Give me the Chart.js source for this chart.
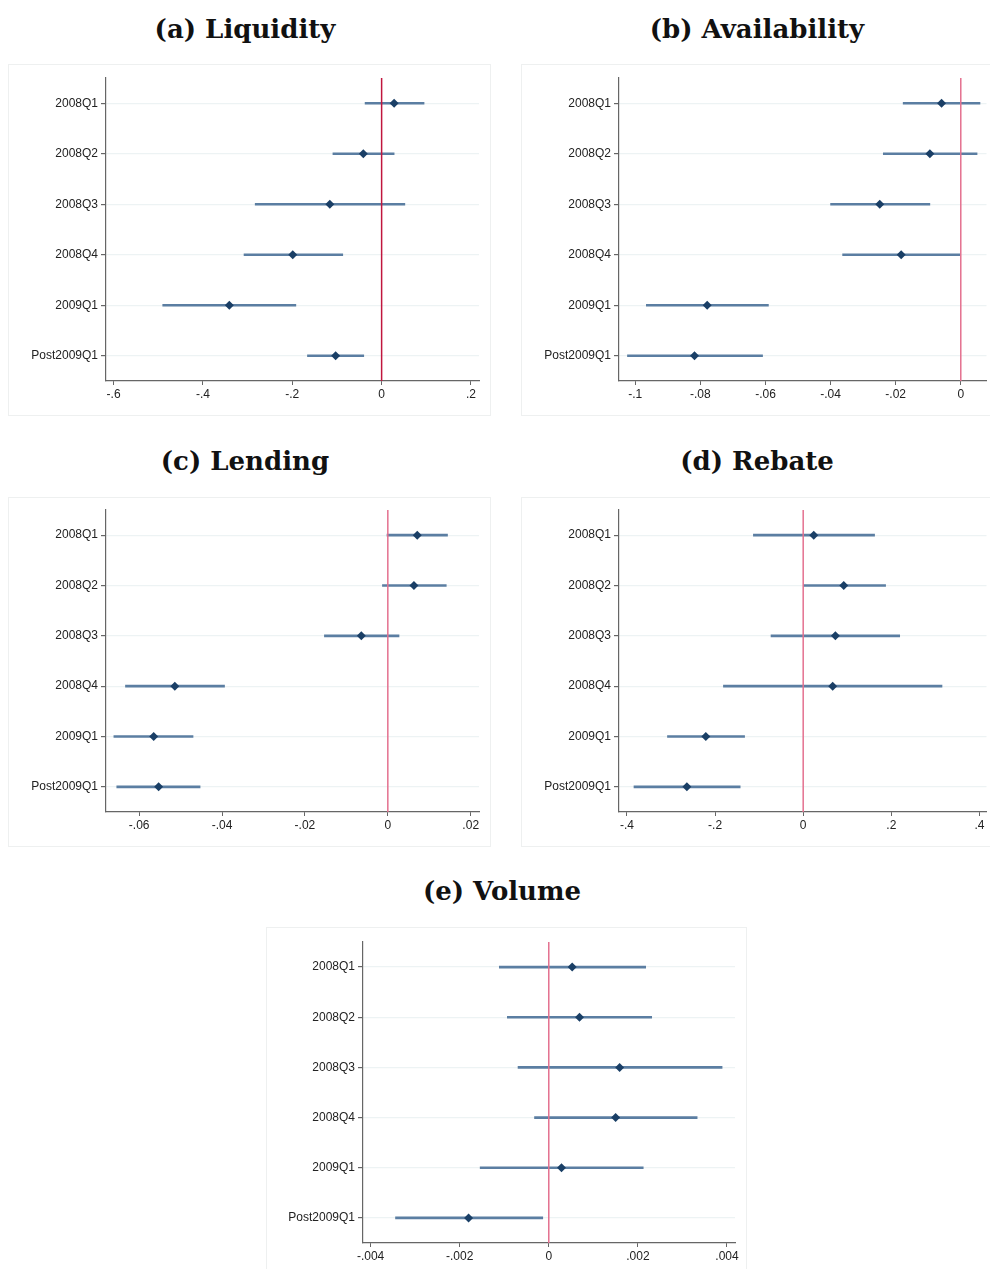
<!DOCTYPE html>
<html>
<head>
<meta charset="utf-8">
<script src="https://cdn.jsdelivr.net/npm/chart.js@4.4.1/dist/chart.umd.min.js"></script>
<style>
  body { margin: 0; background: #fff; width: 990px; height: 1269px; overflow: hidden; position: relative; }
  .title { position: absolute; font-family: "DejaVu Serif", serif; font-weight: bold; font-size: 26px; color: #111; text-align: center; width: 400px; }
  .box { position: absolute; border: 1px solid #eef0f0; box-sizing: border-box; background: #fff; }
  .box canvas { position: absolute; left: 0; top: 0; }
</style>
</head>
<body>
<div class="title" style="left:45px; top:14px;">(a) Liquidity</div>
<div class="title" style="left:557px; top:14px;">(b) Availability</div>
<div class="title" style="left:45px; top:446px;">(c) Lending</div>
<div class="title" style="left:557px; top:446px;">(d) Rebate</div>
<div class="title" style="left:302px; top:876px;">(e) Volume</div>

<div class="box" style="left:8px; top:64px; width:483px; height:352px;"><canvas id="liquidity"></canvas></div>
<div class="box" style="left:521px; top:64px; width:472px; height:352px;"><canvas id="availability"></canvas></div>
<div class="box" style="left:8px; top:497px; width:483px; height:350px;"><canvas id="lending"></canvas></div>
<div class="box" style="left:521px; top:497px; width:472px; height:350px;"><canvas id="rebate"></canvas></div>
<div class="box" style="left:266px; top:927px; width:481px; height:352px;"><canvas id="volume"></canvas></div>

<script>
const categories = ['2008Q1', '2008Q2', '2008Q3', '2008Q4', '2009Q1', 'Post2009Q1'];

// (a) Liquidity
const liquidityCoef = [0.028, -0.041, -0.116, -0.199, -0.341, -0.103];
const liquidityLow  = [-0.037, -0.109, -0.283, -0.308, -0.490, -0.166];
const liquidityHigh = [0.095, 0.028, 0.052, -0.087, -0.192, -0.040];
const liquidityTicks = [-0.6, -0.4, -0.2, 0, 0.2];

// (b) Availability
const availabilityCoef = [-0.0059, -0.0095, -0.0249, -0.0183, -0.0779, -0.0818];
const availabilityLow  = [-0.0177, -0.0238, -0.0400, -0.0363, -0.0966, -0.1024];
const availabilityHigh = [0.0059, 0.0050, -0.0095, -0.0003, -0.0591, -0.0609];
const availabilityTicks = [-0.1, -0.08, -0.06, -0.04, -0.02, 0];

// (c) Lending
const lendingCoef = [0.0071, 0.0063, -0.0064, -0.0514, -0.0565, -0.0553];
const lendingLow  = [-0.0002, -0.0013, -0.0153, -0.0633, -0.0661, -0.0654];
const lendingHigh = [0.0144, 0.0141, 0.0027, -0.0394, -0.0470, -0.0453];
const lendingTicks = [-0.06, -0.04, -0.02, 0, 0.02];

// (d) Rebate
const rebateCoef = [0.024, 0.092, 0.073, 0.067, -0.221, -0.264];
const rebateLow  = [-0.113, 0.000, -0.073, -0.181, -0.308, -0.384];
const rebateHigh = [0.162, 0.187, 0.219, 0.315, -0.133, -0.143];
const rebateTicks = [-0.4, -0.2, 0, 0.2, 0.4];

// (e) Volume
const volumeCoef = [0.000525, 0.00069, 0.00159, 0.0015, 0.000285, -0.0018];
const volumeLow  = [-0.00111, -0.00093, -0.00069, -0.00032, -0.00154, -0.00344];
const volumeHigh = [0.002175, 0.00231, 0.00389, 0.00333, 0.00212, -0.000135];
const volumeTicks = [-0.004, -0.002, 0, 0.002, 0.004];

function fmtTick(v) {
    if (v === 0) return '0';
    return String(v).replace('0.', '.');
}

// vertical line at zero, drawn over the marks
const zeroLine = {
    id: 'zeroLine',
    afterDatasetsDraw(chart, args, opts) {
        const ctx = chart.ctx;
        const x = chart.scales.x.getPixelForValue(0);
        ctx.save();
        ctx.strokeStyle = opts.color;
        ctx.lineWidth = 1.5;
        ctx.beginPath();
        ctx.moveTo(x, chart.chartArea.top);
        ctx.lineTo(x, chart.chartArea.bottom);
        ctx.stroke();
        ctx.restore();
    }
};

function drawPlot(id, coef, low, high, ticks, xmin, xmax, w, h, pad, zeroColor) {
    const canvas = document.getElementById(id);
    canvas.width = w;
    canvas.height = h;
    new Chart(canvas, {
        type: 'bar',
        data: {
            labels: categories,
            datasets: [
            {
                type: 'line',
                data: coef,
                showLine: false,
                pointStyle: 'rectRot',
                pointRadius: 4.5,
                pointBackgroundColor: '#1a3f66',
                pointBorderColor: '#1a3f66',
                pointBorderWidth: 0,
                order: 0
            },
            {
                data: low.map((v, i) => [v, high[i]]),
                backgroundColor: '#5b7ea2',
                barThickness: 2,
                order: 1
            }
            ]
        },
        options: {
            indexAxis: 'y',
            responsive: false,
            animation: false,
            layout: { padding: { top: pad.top, right: pad.right, left: 0, bottom: 0 } },
            scales: {
                x: {
                    type: 'linear',
                    min: xmin,
                    max: xmax,
                    afterBuildTicks: (scale) => { scale.ticks = ticks.map(v => ({ value: v })); },
                    afterFit: (scale) => { scale.height = 35; },
                    grid: { display: true, drawOnChartArea: false, tickLength: 4, tickColor: '#666' },
                    border: { color: '#666', width: 1.2 },
                    ticks: {
                        callback: (v) => fmtTick(v),
                        color: '#222',
                        padding: 2,
                        maxRotation: 0,
                        font: { family: 'Liberation Sans', size: 12 }
                    }
                },
                y: {
                    type: 'category',
                    offset: true,
                    afterFit: (scale) => { scale.width = pad.left; },
                    grid: { offset: false, color: '#edf3f4', lineWidth: 1.2, tickLength: 5, tickColor: '#666' },
                    border: { color: '#666', width: 1.2 },
                    ticks: {
                        color: '#222',
                        padding: 3,
                        font: { family: 'Liberation Sans', size: 12 }
                    }
                }
            },
            plugins: {
                legend: { display: false },
                tooltip: { enabled: false },
                zeroLine: { color: zeroColor }
            }
        },
        plugins: [zeroLine]
    });
}

drawPlot('liquidity', liquidityCoef, liquidityLow, liquidityHigh, liquidityTicks, -0.617, 0.218,
    482, 351, { top: 13, right: 12, left: 97 }, '#c0163e');
drawPlot('availability', availabilityCoef, availabilityLow, availabilityHigh, availabilityTicks, -0.105, 0.0079,
    469, 351, { top: 13, right: 0, left: 97 }, '#e4708f');
drawPlot('lending', lendingCoef, lendingLow, lendingHigh, lendingTicks, -0.068, 0.022,
    482, 349, { top: 12, right: 12, left: 97 }, '#e4708f');
drawPlot('rebate', rebateCoef, rebateLow, rebateHigh, rebateTicks, -0.418, 0.416,
    469, 349, { top: 12, right: 0, left: 97 }, '#e4708f');
drawPlot('volume', volumeCoef, volumeLow, volumeHigh, volumeTicks, -0.00417, 0.00418,
    481, 350, { top: 14, right: 13, left: 96 }, '#e4708f');
</script>
</body>
</html>
